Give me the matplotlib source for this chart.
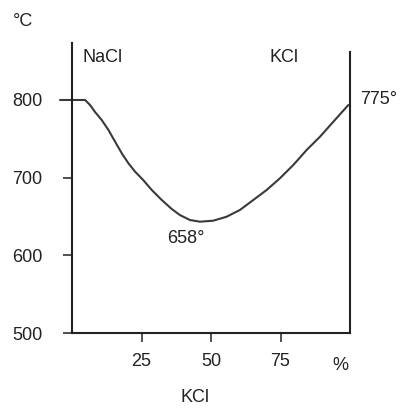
import matplotlib
matplotlib.use("Agg")
import matplotlib.pyplot as plt

plt.rcParams['font.family'] = ['Liberation Sans', 'DejaVu Sans']

# Data (KCl %, temperature °C)
kcl_pct = [-4.3, 4.7, 6.5, 8.3, 10.7, 13.1, 15.5, 17.9, 20.3, 22.7, 25.6, 28.7, 32.3, 35.9,
           38.8, 42.4, 46.0, 50.8, 55.6, 60.4, 65.2, 70.0, 74.8, 79.6, 84.4, 89.2, 94.0, 99.4]
temp_c = [800.0, 800.0, 793.5, 784.5, 774.2, 761.4, 746.3, 731.4, 718.5, 707.7, 697.0, 684.1,
          671.2, 659.6, 651.9, 645.5, 643.3, 644.6, 649.7, 658.4, 671.2, 684.1, 699.2, 716.3,
          735.6, 752.7, 772.0, 793.5]
x_ticks = [25, 50, 75]
x_tick_labels = ["25", "50", "75"]
y_ticks = [500, 600, 700, 800]
y_tick_labels = ["500", "600", "700", "800"]

W, H = 403, 408
fig = plt.figure(figsize=(W / 100, H / 100), dpi=100)
ax = fig.add_axes([72 / W, (H - 333) / H, 278 / W, 290 / H])
ax.set_xlim(0, 100)
ax.set_ylim(500, 500 + 290 / 0.7767)

ax.plot(kcl_pct, temp_c, color='#3a3a3a', lw=1.5, clip_on=False,
        solid_capstyle='round', solid_joinstyle='round')

for s in ['top', 'right']:
    ax.spines[s].set_visible(False)
for s in ['left', 'bottom']:
    ax.spines[s].set_linewidth(1.5)
    ax.spines[s].set_color('#222222')
ax.axvline(100, ymin=0, ymax=(333 - 52) / 290, color='#222222', lw=1.5, clip_on=False)

ax.set_xticks(x_ticks)
ax.set_xticklabels(x_tick_labels)
ax.set_yticks(y_ticks)
ax.set_yticklabels(y_tick_labels)
ax.tick_params(axis='both', direction='out', length=6.5, width=1.1, color='#222222',
               labelsize=13, labelcolor='#222222')
ax.tick_params(axis='x', pad=8)
ax.tick_params(axis='y', pad=15)

def fig_text(px, py, s, ha='center', va='center'):
    fig.text(px / W, 1 - py / H, s, ha=ha, va=va, fontsize=13, color='#222222')

fig_text(23, 21, "°C")
fig_text(103, 58, "NaCl")
fig_text(284, 57, "KCl")
fig_text(360, 100, "775°", ha='left')
fig_text(186, 238, "658°")
fig_text(340, 365, "%")
fig_text(195, 398, "KCl")

fig.savefig("out.png", dpi=100, facecolor='white')
